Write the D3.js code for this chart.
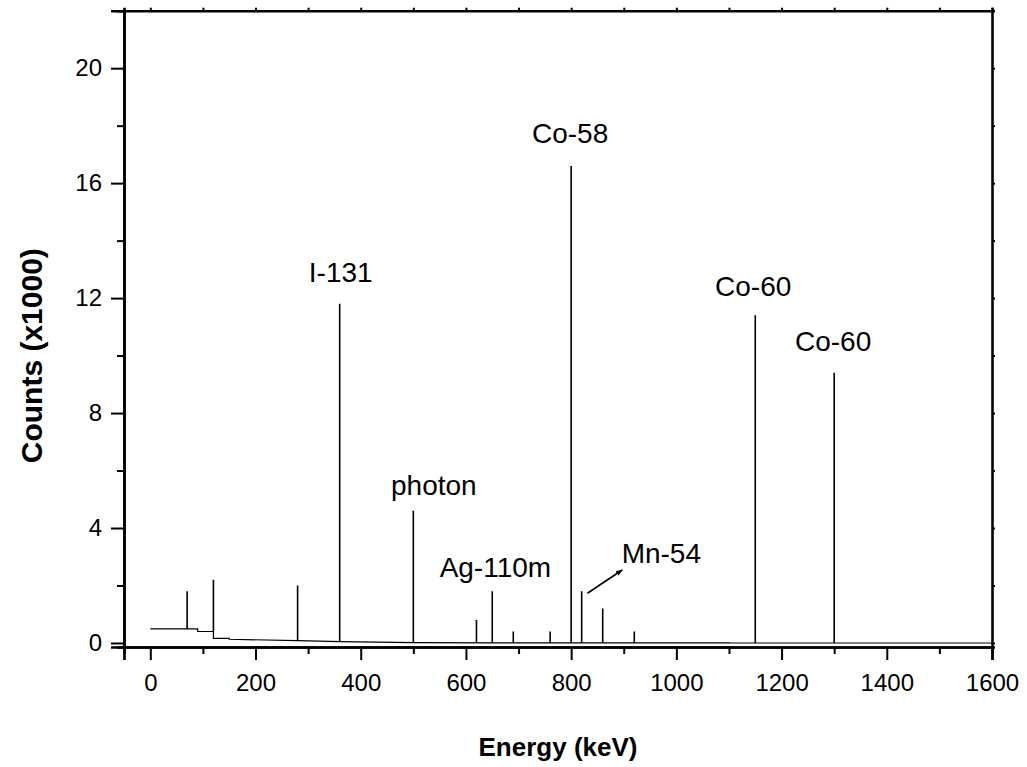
<!DOCTYPE html>
<html>
<head>
<meta charset="utf-8">
<script src="https://cdnjs.cloudflare.com/ajax/libs/d3/7.8.5/d3.min.js"></script>
<style>
    body { margin: 0; background: #fff; }
    text { font-family: "Liberation Sans", Arial, sans-serif; fill: #000; }
</style>
</head>
<body>
<div id="chart-area"></div>
<script>
//============================DATA============================
// continuum of the spectrum (keV, counts x1000), duplicates are steps
var contEnergy = [0, 90, 90, 120, 120, 150, 150, 280, 360, 500, 650, 800, 1100, 1100, 1600];
var contCounts = [0.49, 0.49, 0.40, 0.40, 0.16, 0.16, 0.13, 0.08, 0.05, 0.01, 0.005, 0.003, 0.002, 0, 0];

// peaks (keV, counts x1000)
var peakEnergy = [70, 120, 280, 360, 500, 620, 650, 690, 760, 800, 820, 860, 920, 1150, 1300];
var peakCounts = [1.8, 2.2, 2.0, 11.8, 4.6, 0.8, 1.8, 0.4, 0.4, 16.6, 1.8, 1.2, 0.4, 11.4, 9.4];

// peak labels
var labelText   = ["I-131", "photon", "Ag-110m", "Co-58", "Co-60", "Co-60", "Mn-54"];
var labelEnergy = [362, 539, 656, 798, 1146, 1298, 896];
var labelCounts = [12.56, 5.15, 2.3, 17.4, 12.07, 10.16, 2.77];
var labelAnchor = ["middle", "middle", "middle", "middle", "middle", "middle", "start"];

// arrow pointing to Mn-54
var arrowEnergy = [831, 897];
var arrowCounts = [1.73, 2.54];

// axis ticks
var xTicks = [0, 200, 400, 600, 800, 1000, 1200, 1400, 1600];
var yTicks = [0, 4, 8, 12, 16, 20];

//============================GLOBALS============================
var margins = { left: 124, right: 35, top: 10.7, bottom: 120 };
var width = 1027 - margins.left - margins.right;
var height = 767 - margins.top - margins.bottom;

var svg = d3.select("#chart-area")
    .append("svg")
    .attr("width", 1027)
    .attr("height", 767);

var g = svg.append("g")
    .attr("transform", "translate(" + margins.left + ", " + margins.top + ")");

var x = d3.scaleLinear()
    .domain([-50, 1600])
    .range([0, width]);

var y = d3.scaleLinear()
    .domain([-0.14, 22])
    .range([height, 0]);

//============================AXES============================
// bottom axis, major ticks
var xAxisCall = d3.axisBottom(x)
    .tickValues(xTicks)
    .tickSize(13)
    .tickPadding(14)
    .tickFormat(d3.format("d"));
g.append("g")
    .attr("class", "x axis")
    .attr("transform", "translate(0, " + height + ")")
    .call(xAxisCall);

// bottom axis, minor ticks
g.append("g")
    .attr("transform", "translate(0, " + height + ")")
    .call(d3.axisBottom(x).tickValues(d3.range(100, 1600, 200)).tickSize(7).tickFormat(""));

// left axis
var yAxisCall = d3.axisLeft(y)
    .tickValues(yTicks)
    .tickSize(13)
    .tickPadding(9)
    .tickFormat(d3.format("d"));
g.append("g")
    .attr("class", "y axis")
    .call(yAxisCall);

g.append("g")
    .call(d3.axisLeft(y).tickValues(d3.range(2, 22, 4)).tickSize(7).tickFormat(""));

// top and right axes with small outward ticks
g.append("g")
    .call(d3.axisTop(x).tickValues(d3.range(0, 1601, 100)).tickSize(3).tickFormat(""));
g.append("g")
    .attr("transform", "translate(" + width + ", 0)")
    .call(d3.axisRight(y).tickValues(d3.range(0, 22, 2)).tickSize(3).tickFormat(""));

// style all axes
g.selectAll(".domain")
    .attr("stroke", "#000")
    .attr("stroke-width", 2.6);
g.selectAll(".tick line")
    .attr("stroke", "#000")
    .attr("stroke-width", 2);
g.selectAll(".tick text")
    .attr("font-size", "24px")
    .attr("fill", "#000");
g.selectAll(".domain").each(function(){ this.parentNode.appendChild(this); });

//============================SPECTRUM============================
var line = d3.line()
    .x(function(d){ return x(d[0]); })
    .y(function(d){ return y(d[1]); });

var contData = contEnergy.map(function(e, i){ return [e, contCounts[i]]; });

g.append("path")
    .datum(contData)
    .attr("fill", "none")
    .attr("stroke", "#000")
    .attr("stroke-width", 1.2)
    .attr("d", line);

// continuum level under a peak, taken from the left side of a step
function baseAt(e){
    var i = d3.bisectLeft(contEnergy, e);
    if (contEnergy[i] === e) return contCounts[i];
    var t = (e - contEnergy[i - 1]) / (contEnergy[i] - contEnergy[i - 1]);
    return contCounts[i - 1] + t * (contCounts[i] - contCounts[i - 1]);
}

g.selectAll(".peak")
    .data(peakEnergy)
    .enter()
    .append("line")
    .attr("class", "peak")
    .attr("x1", function(d){ return x(d); })
    .attr("x2", function(d){ return x(d); })
    .attr("y1", function(d){ return y(baseAt(d)); })
    .attr("y2", function(d, i){ return y(peakCounts[i]); })
    .attr("stroke", "#000")
    .attr("stroke-width", 1.6);

//============================LABELS============================
g.selectAll(".peak-label")
    .data(labelText)
    .enter()
    .append("text")
    .attr("class", "peak-label")
    .attr("x", function(d, i){ return x(labelEnergy[i]); })
    .attr("y", function(d, i){ return y(labelCounts[i]); })
    .attr("text-anchor", function(d, i){ return labelAnchor[i]; })
    .attr("font-size", "28px")
    .text(function(d){ return d; });

// arrow
svg.append("defs").append("marker")
    .attr("id", "arrowhead")
    .attr("viewBox", "0 0 10 10")
    .attr("refX", 9)
    .attr("refY", 5)
    .attr("markerWidth", 7)
    .attr("markerHeight", 7)
    .attr("orient", "auto")
    .attr("markerUnits", "userSpaceOnUse")
    .append("path")
    .attr("d", "M0,1 L10,5 L0,9 Z")
    .attr("fill", "#000");

g.append("line")
    .attr("x1", x(arrowEnergy[0]))
    .attr("y1", y(arrowCounts[0]))
    .attr("x2", x(arrowEnergy[1]))
    .attr("y2", y(arrowCounts[1]))
    .attr("stroke", "#000")
    .attr("stroke-width", 1.6)
    .attr("marker-end", "url(#arrowhead)");

//============================AXIS TITLES============================
g.append("text")
    .attr("x", width / 2)
    .attr("y", height + 109)
    .attr("text-anchor", "middle")
    .attr("font-size", "26px")
    .attr("font-weight", "bold")
    .text("Energy (keV)");

g.append("text")
    .attr("x", -345)
    .attr("y", -82)
    .attr("text-anchor", "middle")
    .attr("font-size", "30px")
    .attr("font-weight", "bold")
    .attr("transform", "rotate(-90)")
    .text("Counts (x1000)");
</script>
</body>
</html>
